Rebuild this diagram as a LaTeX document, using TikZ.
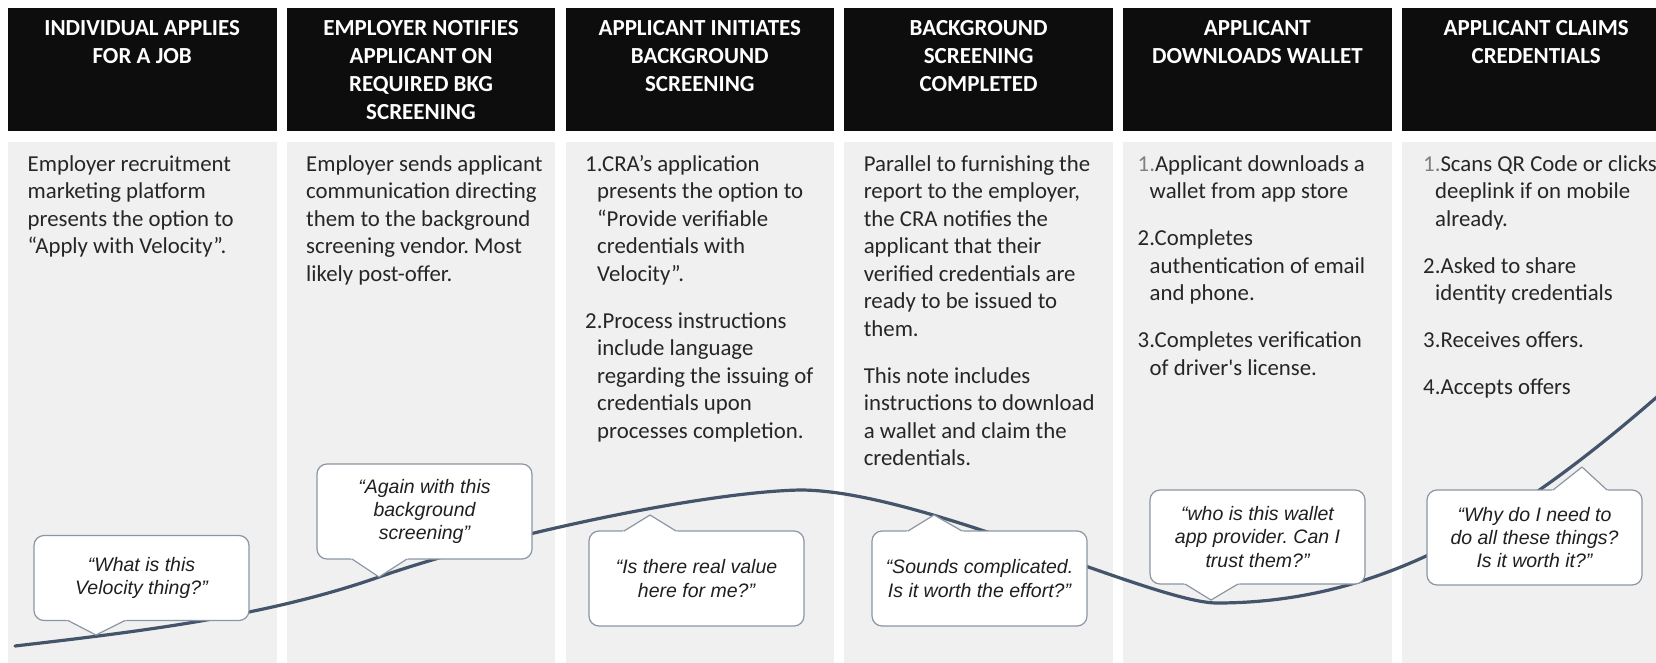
\documentclass[tikz,border=0pt]{standalone}
\usepackage{fontspec}
\setmainfont{Carlito}[Ligatures=TeXOff]
\newfontfamily\quotefont{Liberation Sans}
\usetikzlibrary{calc}
\frenchspacing

\definecolor{hdrblack}{HTML}{0D0D0D}
\definecolor{panelgray}{HTML}{F0F0F0}
\definecolor{bodyink}{HTML}{262626}
\definecolor{numgray}{HTML}{7F7F7F}
\definecolor{journeyblue}{HTML}{44546A}
\definecolor{bubbleedge}{HTML}{8C96A3}

\tikzset{
  hdrtext/.style={anchor=north, inner sep=0pt, align=center, text=white,
    font=\fontsize{23}{28.2}\selectfont\bfseries},
  bodytext/.style={anchor=north west, inner sep=0pt, align=left, text=bodyink,
    font=\fontsize{22.8}{27.5}\selectfont},
  bubble/.style={draw=bubbleedge, line width=1.2pt, fill=white, rounded corners=10pt,
    outer sep=0pt, minimum width=215pt, minimum height=95pt, align=center,
    text=black!88, font=\quotefont\itshape\fontsize{19.5}{23.4}\selectfont},
  journey/.style={draw=journeyblue, line width=3.2pt, line cap=round},
  tailline/.style={draw=bubbleedge, line width=1.2pt, line join=round}
}

\newcommand\ind{\hspace*{12pt}}
\newcommand\lnum[1]{{\color{numgray}#1}}
\newcommand\tail[5]{%
  \coordinate (ta) at (#5);
  \coordinate (tb) at ($(#1.#2)+(#3,0)$);
  \coordinate (tc) at ($(#1.#2)+(#4,0)$);
  \fill[white] ($(ta)!1.15!(tb)$) -- (ta) -- ($(ta)!1.15!(tc)$) -- cycle;
  \draw[tailline] (tb) -- (ta) -- (tc);}

\begin{document}
\begin{tikzpicture}[x=1pt,y=-1pt]
\clip (0,0) rectangle (1656,663);
\fill[white] (0,0) rectangle (1656,663);

\foreach \x in {8,286.8,565.6,844.4,1123.2,1402}{
  \fill[hdrblack] (\x,8.5) rectangle ++(268.5,122.5);
  \fill[panelgray] (\x,142) rectangle ++(268.5,521);
}

\node[hdrtext] (h1) at (142.2,20) {INDIVIDUAL APPLIES\\FOR A JOB};
\node[hdrtext] (h2) at (421,20) {EMPLOYER NOTIFIES\\APPLICANT ON\\REQUIRED BKG\\SCREENING};
\node[hdrtext] (h3) at (699.8,20) {APPLICANT INITIATES\\BACKGROUND\\SCREENING};
\node[hdrtext] (h4) at (978.6,20) {BACKGROUND\\SCREENING\\COMPLETED};
\node[hdrtext] (h5) at (1257.4,20) {APPLICANT\\DOWNLOADS WALLET};
\node[hdrtext] (h6) at (1536.2,20) {APPLICANT CLAIMS\\CREDENTIALS};

\node[bodytext] (p1) at (27.5,155) {Employer recruitment\\marketing platform\\presents the option to\\“Apply with Velocity”.};
\node[bodytext] (p2) at (306,155) {Employer sends applicant\\communication directing\\them to the background\\screening vendor. Most\\likely post-offer.};
\node[bodytext] (p3) at (585,155) {1.CRA’s application\\\ind presents the option to\\\ind “Provide verifiable\\\ind credentials with\\\ind Velocity”.\\[19.5pt]
  2.Process instructions\\\ind include language\\\ind regarding the issuing of\\\ind credentials upon\\\ind processes completion.};
\node[bodytext] (p4) at (863.6,155) {Parallel to furnishing the\\report to the employer,\\the CRA notifies the\\applicant that their\\verified credentials are\\ready to be issued to\\them.\\[19.5pt]
  This note includes\\instructions to download\\a wallet and claim the\\credentials.};
\node[bodytext] (p5) at (1137.5,155) {\lnum{1.}Applicant downloads a\\\ind wallet from app store\\[19.5pt]
  2.Completes\\\ind authentication of email\\\ind and phone.\\[19.5pt]
  3.Completes verification\\\ind of driver's license.};
\node[bodytext] (p6) at (1423,155) {\lnum{1.}Scans QR Code or clicks\\\ind deeplink if on mobile\\\ind already.\\[19.5pt]
  2.Asked to share\\\ind identity credentials\\[19.5pt]
  3.Receives offers.\\[19.5pt]
  4.Accepts offers};

\draw[journey] (15,646) .. controls (135,632) and (265,617) .. (379,577)
  .. controls (490,538) and (700,492) .. (800,490)
  .. controls (920,490) and (1154,603) .. (1217,603)
  .. controls (1380,603) and (1510,525) .. (1658,396);

\node[bubble, minimum height=85pt] (q1) at (141.5,578) {“What is this\\Velocity thing?”};
\tail{q1}{south}{-73.5}{-16.5}{96,635}
\node[bubble] (q2) at (424.5,511.5) {“Again with this\\background\\screening”};
\tail{q2}{south}{-72.5}{-17.5}{379,577}
\node[bubble] (q3) at (696.5,578.5) {“Is there real value\\here for me?”};
\tail{q3}{north}{-72.5}{-20.5}{650,515}
\node[bubble] (q4) at (979.5,578.5) {“Sounds complicated.\\Is it worth the effort?”};
\tail{q4}{north}{-71.5}{-17.5}{934,515}
\node[bubble, minimum height=94pt] (q5) at (1257.5,537) {“who is this wallet\\app provider. Can I\\trust them?”};
\tail{q5}{south}{-72.5}{-19.5}{1211,600}
\node[bubble] (q6) at (1534.5,537.5) {“Why do I need to\\do all these things?\\Is it worth it?”};
\tail{q6}{north}{18.5}{72.5}{1582,467}
\end{tikzpicture}
\end{document}
